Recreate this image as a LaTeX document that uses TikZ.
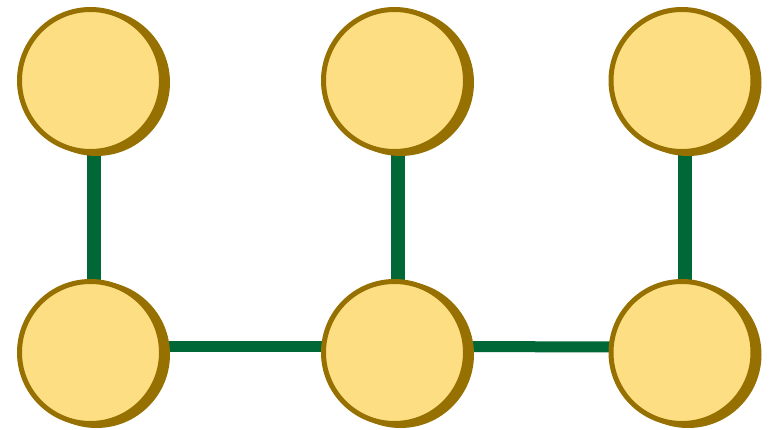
\documentclass[tikz,border=0pt]{standalone}
\definecolor{nodefill}{RGB}{253,222,131}
\definecolor{nodeborder}{RGB}{150,112,0}
\definecolor{edgegreen}{RGB}{0,104,55}
\begin{document}
\begin{tikzpicture}[x=1pt,y=-1pt,
  ball/.style={circle,minimum size=142pt,inner sep=0pt,fill=nodefill,draw=nodeborder,line width=5pt},
  shadowball/.style={circle,minimum size=147pt,inner sep=0pt,fill=nodeborder},
  link/.style={draw=edgegreen,line width=14pt}]
\useasboundingbox (0,0) rectangle (772,429);
\foreach \n/\x/\y in {t1/90.5/80.5,t2/394.5/80.5,t3/682/80.5,b1/90.5/352.5,b2/394.5/352.5,b3/682/352.5}{
  \coordinate (\n) at (\x,\y);
}
\draw[link] ([xshift=3pt]t1) -- ([xshift=3pt]b1);
\draw[link] ([xshift=3pt]t2) -- ([xshift=3pt]b2);
\draw[link] ([xshift=3pt]t3) -- ([xshift=3pt]b3);
\draw[link,line width=11pt] ([yshift=6pt]b1) -- ([yshift=6pt]b2);
\draw[link,line width=11pt] ([yshift=6pt]b2) -- ([yshift=5.5pt]b3);
\foreach \n in {t1,t2,t3,b1,b2,b3}{
  \node[shadowball] (s\n) at ([xshift=6pt,yshift=-2pt]\n) {};
  \node[ball] (n\n) at (\n) {};
}
\end{tikzpicture}
\end{document}
